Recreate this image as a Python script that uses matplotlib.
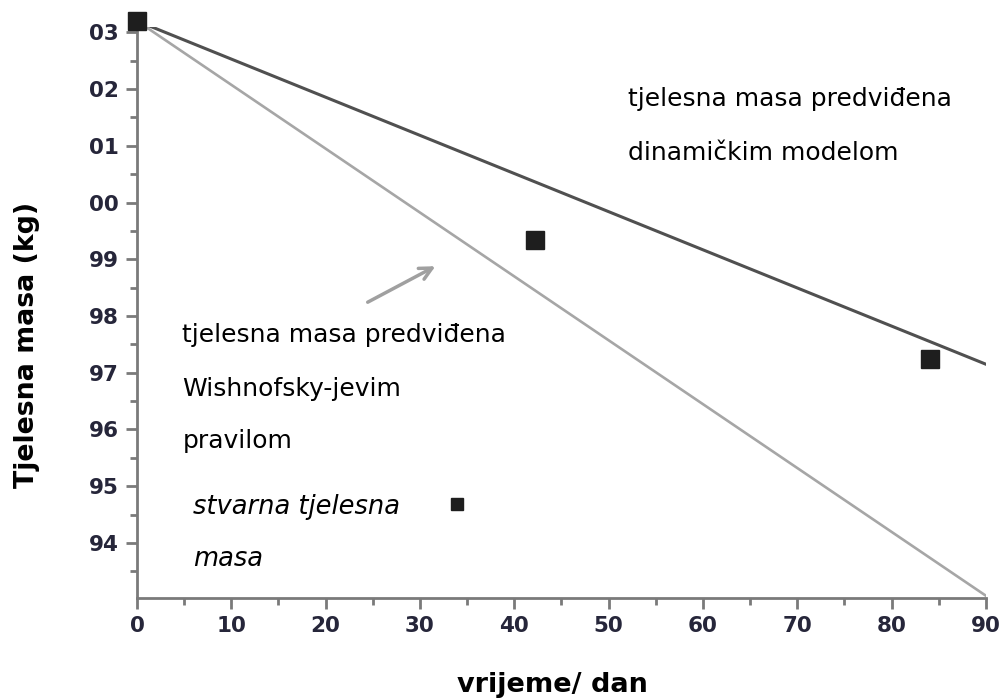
import numpy as np
import matplotlib
matplotlib.use('Agg')
from matplotlib import pyplot as plt
from matplotlib.ticker import MultipleLocator

SPINE_COLOR = '#7a7a7a'
TICK_COLOR = '#26263a'

# model lines (day, kg)
days_line = [0, 90]
dynamic_model = [103.2, 97.15]
wishnofsky_rule = [103.2, 93.07]

# measured body mass
days_meas = [0, 42.2, 84.1]
mass_meas = [103.2, 99.34, 97.25]

y_ticks = [103, 102, 101, 100, 99, 98, 97, 96, 95, 94]
y_labels = ['03', '02', '01', '00', '99', '98', '97', '96', '95', '94']
x_ticks = [0, 10, 20, 30, 40, 50, 60, 70, 80, 90]

fig = plt.figure(figsize=(10.05, 7.0), dpi=100)
ax = fig.add_axes([0.1363, 0.1457, 0.8447, 0.8163])

ax.plot(days_line, wishnofsky_rule, color='#a6a6a6', lw=1.9, zorder=2)
ax.plot(days_line, dynamic_model, color='#505050', lw=2.2, zorder=3)
ax.plot(days_meas, mass_meas, ls='none', marker='s', ms=13, color='#1e1e1e',
        clip_on=False, zorder=4)

# legend-like marker
ax.plot([33.9], [94.68], ls='none', marker='s', ms=8.5, color='#1e1e1e')

ax.annotate('', xy=(31.9, 98.9), xytext=(24.2, 98.22),
            arrowprops=dict(arrowstyle='->', color='#a0a0a0', lw=2.5,
                            mutation_scale=22))

fs = 18
ax.text(52.1, 101.83, 'tjelesna masa predviđena', fontsize=fs, va='center')
ax.text(52.1, 100.87, 'dinamičkim modelom', fontsize=fs, va='center')
ax.text(4.8, 97.66, 'tjelesna masa predviđena', fontsize=fs, va='center')
ax.text(4.8, 96.72, 'Wishnofsky-jevim', fontsize=fs, va='center')
ax.text(4.8, 95.80, 'pravilom', fontsize=fs, va='center')
ax.text(5.9, 94.63, 'stvarna tjelesna', fontsize=18.5, va='center', style='italic')
ax.text(5.9, 93.71, 'masa', fontsize=18.5, va='center', style='italic')

ax.set_xlim(0, 90)
ax.set_ylim(93.03, 103.1)
ax.set_xticks(x_ticks)
ax.set_xticklabels([str(t) for t in x_ticks])
ax.set_yticks(y_ticks)
ax.set_yticklabels(y_labels)
ax.xaxis.set_minor_locator(MultipleLocator(5))
ax.yaxis.set_minor_locator(MultipleLocator(0.5))

for spine in ['top', 'right']:
    ax.spines[spine].set_visible(False)
for spine in ['left', 'bottom']:
    ax.spines[spine].set_color(SPINE_COLOR)
    ax.spines[spine].set_linewidth(2)

ax.tick_params(which='major', direction='out', color=SPINE_COLOR, length=8,
               width=2, labelsize=15.5, labelcolor=TICK_COLOR, pad=5)
ax.tick_params(which='minor', direction='out', color=SPINE_COLOR, length=5,
               width=2)
for lab in ax.get_xticklabels() + ax.get_yticklabels():
    lab.set_fontweight('bold')

fig.text(0.55, 0.022, 'vrijeme/ dan', fontsize=19.5, fontweight='bold',
         ha='center', va='center')
fig.text(0.027, 0.507, 'Tjelesna masa (kg)', fontsize=19.3, fontweight='bold',
         ha='center', va='center', rotation=90)

fig.savefig('out.png', dpi=100)
